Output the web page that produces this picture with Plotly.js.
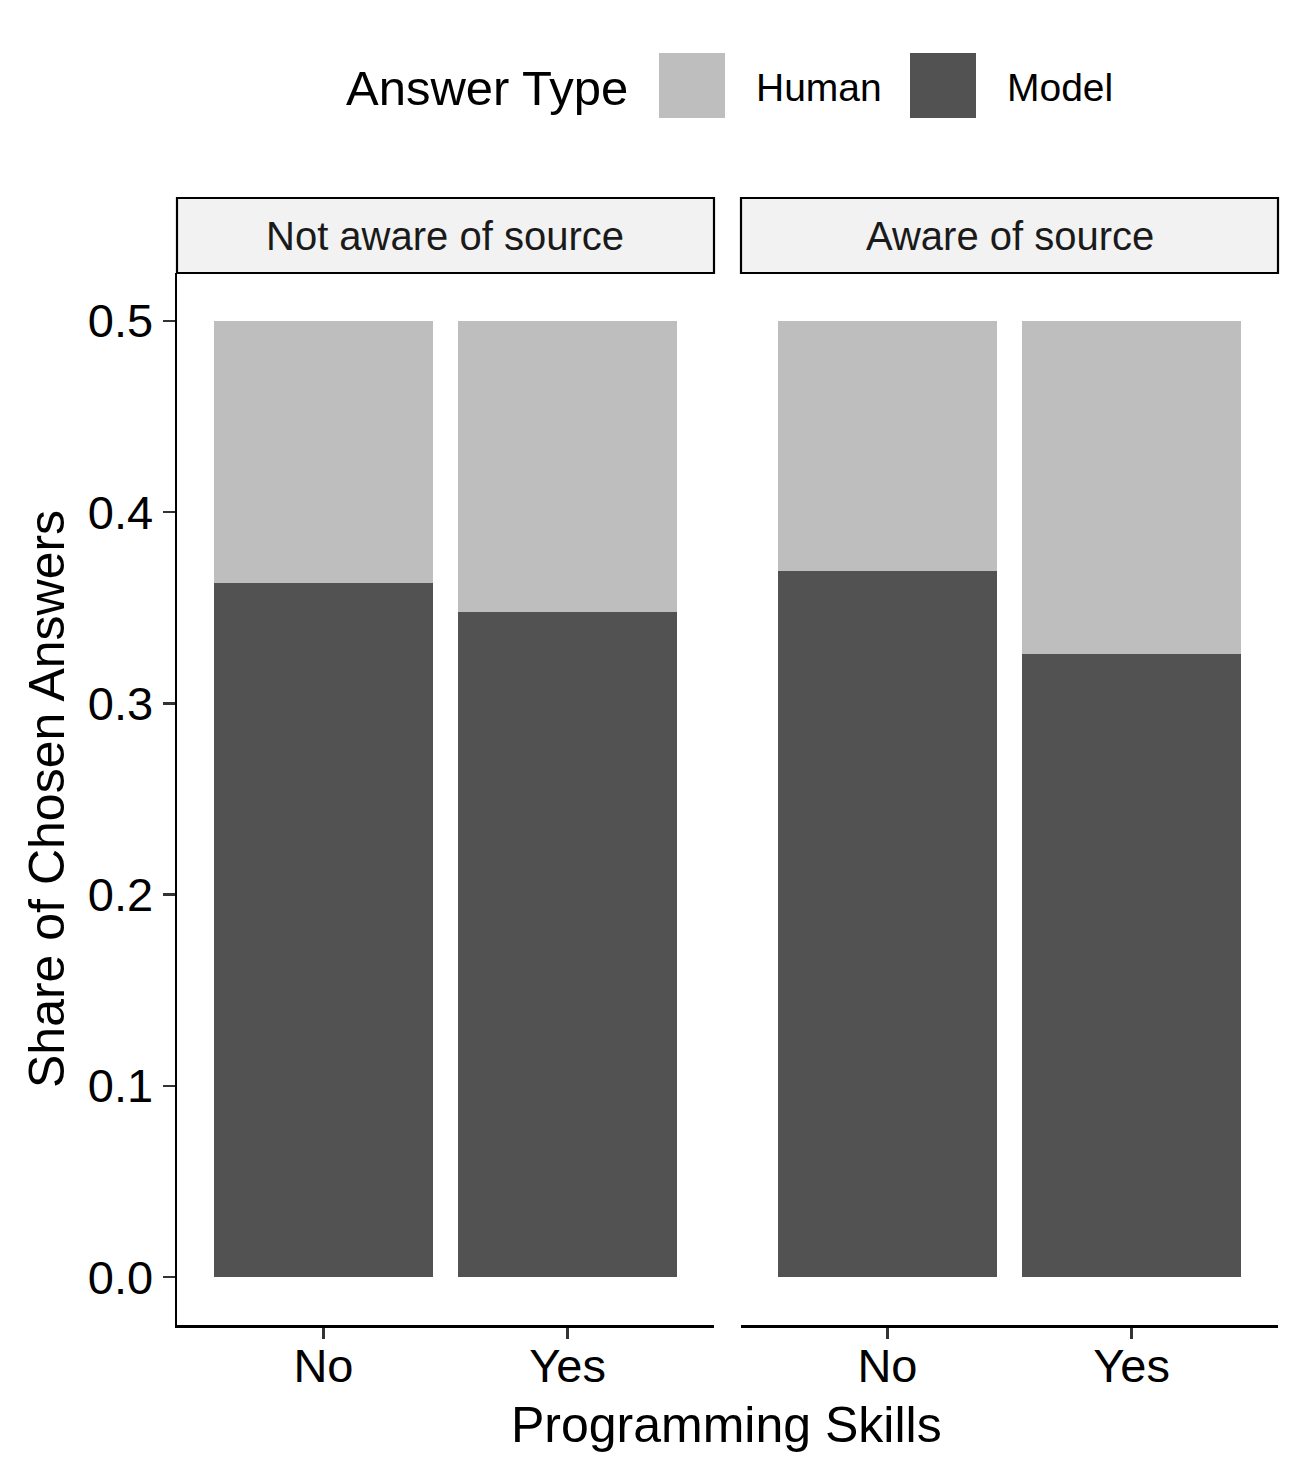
<!DOCTYPE html>
<html>
<head>
<meta charset="utf-8">
<script src="https://cdn.plot.ly/plotly-3.0.1.min.js"></script>
<style>html,body{margin:0;padding:0;background:#fff;}#chart{width:1304px;height:1479px;}</style>
</head>
<body>
<div id="chart"></div>
<script>
// ---- data ----
const skills = ['No', 'Yes'];
const facetLabels = ['Not aware of source', 'Aware of source'];
const answerTypes = ['Human', 'Model'];
const answerColors = ['#BEBEBE', '#525252'];
const modelNotAware = [0.363, 0.348];
const humanNotAware = [0.137, 0.152];
const modelAware = [0.369, 0.326];
const humanAware = [0.131, 0.174];
const yTickVals = [0.0, 0.1, 0.2, 0.3, 0.4, 0.5];
const xTitle = 'Programming Skills';
const yTitle = 'Share of Chosen Answers';
const legendTitle = 'Answer Type';

const FONT = '"Liberation Sans", Arial, Helvetica, sans-serif';
const W = 1304, H = 1479;

function bar(x, y, color, xa, ya) {
  return {type: 'bar', x: x, y: y, xaxis: xa, yaxis: ya,
    marker: {color: color, line: {width: 0}}, showlegend: false, hoverinfo: 'skip'};
}

const traces = [
  bar(skills, modelNotAware, answerColors[1], 'x', 'y'),
  bar(skills, humanNotAware, answerColors[0], 'x', 'y'),
  bar(skills, modelAware, answerColors[1], 'x2', 'y2'),
  bar(skills, humanAware, answerColors[0], 'x2', 'y2')
];

const px = v => v / W;
const py = v => 1 - v / H;

const yDom = [py(1325), py(273)];
const stripTop = 1 + (273 - 198) / (1325 - 273);

const xCommon = {
  type: 'category', range: [-0.6, 1.6], showgrid: false, zeroline: false,
  showline: true, linecolor: '#000', linewidth: 2.5,
  ticks: 'outside', ticklen: 11, tickwidth: 2.5, tickcolor: '#333',
  ticklabelstandoff: -13,
  tickfont: {family: FONT, size: 47, color: '#000'}, fixedrange: true
};
const yCommon = {
  range: [-0.025, 0.525], domain: yDom, showgrid: false, zeroline: false,
  tickvals: yTickVals, tickformat: '.1f', fixedrange: true
};

const shapes = [];
const annotations = [];
['x', 'x2'].forEach((xa, i) => {
  const ya = i === 0 ? 'y' : 'y2';
  shapes.push({type: 'rect', xref: xa + ' domain', yref: ya + ' domain',
    x0: 0, x1: 1, y0: 1, y1: stripTop, fillcolor: '#F2F2F2',
    line: {color: '#000', width: 2.2}, layer: 'above'});
  annotations.push({xref: xa + ' domain', yref: ya + ' domain', x: 0.5, y: (1 + stripTop) / 2,
    xanchor: 'center', yanchor: 'middle', showarrow: false, text: facetLabels[i],
    font: {family: FONT, size: 40, color: '#1A1A1A'}});
});

// custom legend (large keys)
const keyX = [659, 910];
const labX = [754, 1005];
answerTypes.forEach((t, i) => {
  shapes.push({type: 'rect', xref: 'paper', yref: 'paper',
    x0: px(keyX[i]), x1: px(keyX[i] + 66), y0: py(118), y1: py(53),
    fillcolor: answerColors[i], line: {width: 0}});
  annotations.push({xref: 'paper', yref: 'paper', x: px(labX[i]), y: py(87),
    xanchor: 'left', yanchor: 'middle', showarrow: false, text: t,
    font: {family: FONT, size: 39, color: '#000'}});
});
annotations.push({xref: 'paper', yref: 'paper', x: px(344), y: py(88),
  xanchor: 'left', yanchor: 'middle', showarrow: false, text: legendTitle,
  font: {family: FONT, size: 49, color: '#000'}});
annotations.push({xref: 'paper', yref: 'paper', x: px(727), y: py(1425),
  xanchor: 'center', yanchor: 'middle', showarrow: false, text: xTitle,
  font: {family: FONT, size: 50, color: '#000'}});
annotations.push({xref: 'paper', yref: 'paper', x: px(47), y: py(799),
  xanchor: 'center', yanchor: 'middle', showarrow: false, text: yTitle, textangle: -90,
  font: {family: FONT, size: 50, color: '#000'}});

const layout = {
  width: W, height: H,
  margin: {l: 0, r: 0, t: 0, b: 0, pad: 0},
  paper_bgcolor: '#fff', plot_bgcolor: '#fff',
  barmode: 'stack', bargap: 0.1,
  showlegend: false,
  font: {family: FONT, color: '#000'},
  xaxis: Object.assign({}, xCommon, {domain: [px(177), px(714)], anchor: 'y'}),
  xaxis2: Object.assign({}, xCommon, {domain: [px(741), px(1278)], anchor: 'y2'}),
  yaxis: Object.assign({}, yCommon, {anchor: 'x', showline: true, linecolor: '#000', linewidth: 2.5,
    ticks: 'outside', ticklen: 12, tickwidth: 2.5, tickcolor: '#333',
    tickfont: {family: FONT, size: 47, color: '#000'}}),
  yaxis2: Object.assign({}, yCommon, {anchor: 'x2', showline: false, ticks: '', showticklabels: false}),
  shapes: shapes,
  annotations: annotations
};

Plotly.newPlot('chart', traces, layout, {displayModeBar: false, staticPlot: true});
</script>
</body>
</html>
